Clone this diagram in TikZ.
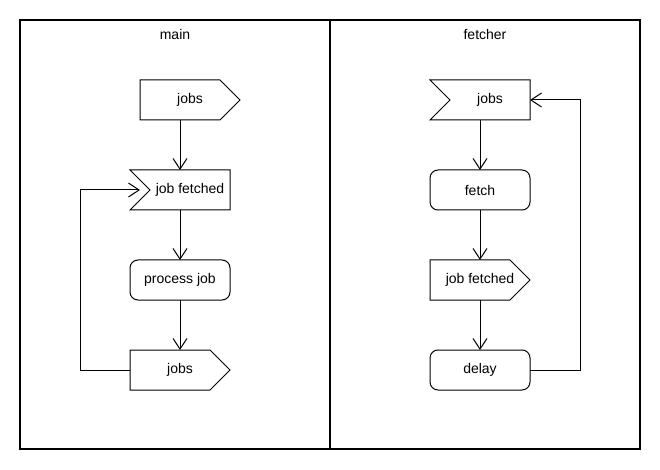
\documentclass[tikz,border=0pt]{standalone}
\usepackage{fontspec}
\setmainfont{Liberation Sans}
\usetikzlibrary{arrows.meta}
\begin{document}
\begin{tikzpicture}[x=0.75pt,y=-0.75pt,
  every node/.style={font=\fontsize{10.5}{12}\selectfont},
  box/.style={minimum width=75pt, minimum height=30pt, inner sep=0pt, outer sep=0pt},
  act/.style={box, draw, rounded corners=6pt, line width=0.75pt},
  arr/.style={-{Straight Barb[length=8pt,width=10.5pt,line width=0.75pt]}, line width=0.75pt},
  ln/.style={line width=0.75pt}]
\useasboundingbox (0,0) rectangle (660,470);
\draw[line width=0.9pt] (20,20) rectangle (640,449);
\draw[line width=1.5pt] (330,20) -- (330,449);
\node[anchor=base] (tmain) at (175,40) {main};
\node[anchor=base] (tfetcher) at (485,40) {fetcher};
% left lane
\node[box] (mjobs) at (190,100) {jobs};
\node[box] (mfet) at (180,190) {\hspace*{15pt}job fetched};
\node[act] (mproc) at (180,280) {process job};
\node[box] (mjobs2) at (180,370) {jobs};
\draw[ln] (mjobs.north west) -- ([xshift=-15pt]mjobs.north east) -- (mjobs.east) -- ([xshift=-15pt]mjobs.south east) -- (mjobs.south west) -- cycle;
\draw[ln] (mfet.north west) -- (mfet.north east) -- (mfet.south east) -- (mfet.south west) -- ([xshift=15pt]mfet.west) -- cycle;
\draw[ln] (mjobs2.north west) -- ([xshift=-15pt]mjobs2.north east) -- (mjobs2.east) -- ([xshift=-15pt]mjobs2.south east) -- (mjobs2.south west) -- cycle;
\draw[arr] (mjobs.south -| mfet.north) -- (mfet.north);
\draw[arr] (mfet.south) -- (mproc.north);
\draw[arr] (mproc.south) -- (mjobs2.north);
\draw[arr] (mjobs2.west) -- ++(-50,0) |- ([xshift=7.5pt]mfet.west);
% right lane
\node[box] (fjobs) at (480,100) {\hspace*{15pt}jobs};
\node[act] (ffetch) at (480,190) {fetch};
\node[box] (ffet) at (480,280) {job fetched};
\node[act] (fdelay) at (480,370) {delay};
\draw[ln] (fjobs.north west) -- (fjobs.north east) -- (fjobs.south east) -- (fjobs.south west) -- ([xshift=15pt]fjobs.west) -- cycle;
\draw[ln] (ffet.north west) -- ([xshift=-15pt]ffet.north east) -- (ffet.east) -- ([xshift=-15pt]ffet.south east) -- (ffet.south west) -- cycle;
\draw[arr] (fjobs.south) -- (ffetch.north);
\draw[arr] (ffetch.south) -- (ffet.north);
\draw[arr] (ffet.south) -- (fdelay.north);
\draw[arr] (fdelay.east) -- ++(50,0) |- (fjobs.east);
\end{tikzpicture}
\end{document}
